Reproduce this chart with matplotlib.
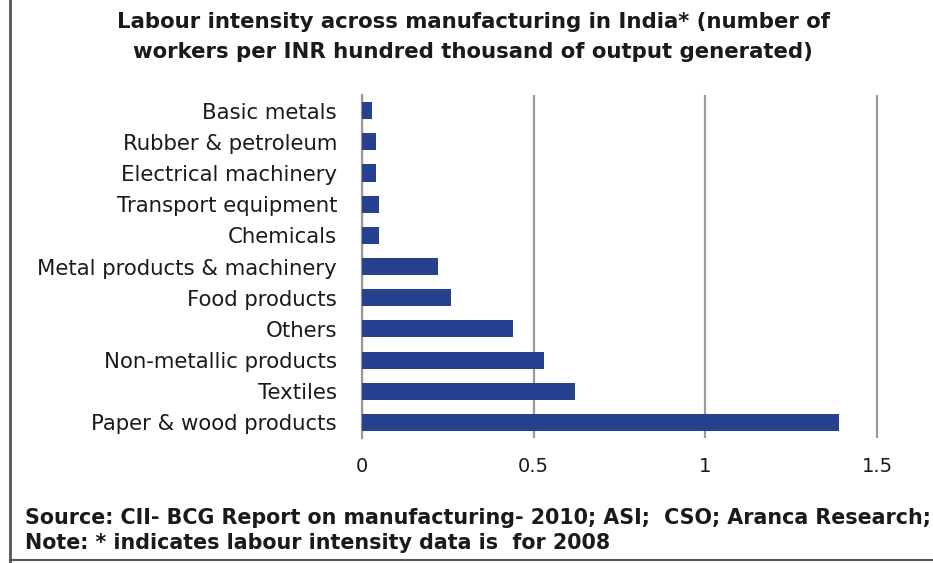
import matplotlib.pyplot as plt
from matplotlib.lines import Line2D

plt.rcParams['font.family'] = ['DejaVu Sans']

categories = ['Basic metals', 'Rubber & petroleum', 'Electrical machinery',
              'Transport equipment', 'Chemicals', 'Metal products & machinery',
              'Food products', 'Others', 'Non-metallic products', 'Textiles',
              'Paper & wood products']
values = [0.03, 0.04, 0.04, 0.05, 0.05, 0.22, 0.26, 0.44, 0.53, 0.62, 1.39]
xticks = [0, 0.5, 1, 1.5]
xticklabels = ['0', '0.5', '1', '1.5']

bar_color = '#25418F'

fig = plt.figure(figsize=(9.33, 5.63), dpi=100)
ax = fig.add_axes([0.388, 0.222, 0.554, 0.609])

ax.barh(range(len(categories)), values, height=0.55, color=bar_color, zorder=3)
ax.set_ylim(len(categories) - 0.5, -0.5)
ax.set_xlim(0, 1.505)
ax.set_yticks(range(len(categories)))
ax.set_yticklabels(categories, fontsize=15.3, color='#1a1a1a')
ax.set_xticks(xticks)
ax.set_xticklabels(xticklabels, fontsize=14, color='#1a1a1a')
ax.tick_params(axis='both', length=0)
ax.tick_params(axis='x', pad=14)
ax.tick_params(axis='y', pad=18)
ax.grid(axis='x', color='#9a9a9a', linewidth=1.6, zorder=0)
for s in ['top', 'right', 'bottom']:
    ax.spines[s].set_visible(False)
ax.spines['left'].set_color('#9a9a9a')
ax.spines['left'].set_linewidth(1.6)

fig.text(0.507, 0.978, 'Labour intensity across manufacturing in India* (number of\n'
         'workers per INR hundred thousand of output generated)',
         ha='center', va='top', fontsize=15.3, fontweight='bold',
         color='#1a1a1a', linespacing=1.6)

fig.text(0.027, 0.098, 'Source: CII- BCG Report on manufacturing- 2010; ASI;  CSO; Aranca Research;\n'
         'Note: * indicates labour intensity data is  for 2008',
         ha='left', va='top', fontsize=14.9, fontweight='bold',
         color='#1a1a1a', linespacing=1.3)

# frame lines on left and bottom
fig.add_artist(Line2D([0.011, 0.011], [0.0, 1.0], transform=fig.transFigure,
                      color='#555555', linewidth=2))
fig.add_artist(Line2D([0.011, 1.0], [0.005, 0.005], transform=fig.transFigure,
                      color='#555555', linewidth=1.5))

fig.savefig('out.png', dpi=100)
